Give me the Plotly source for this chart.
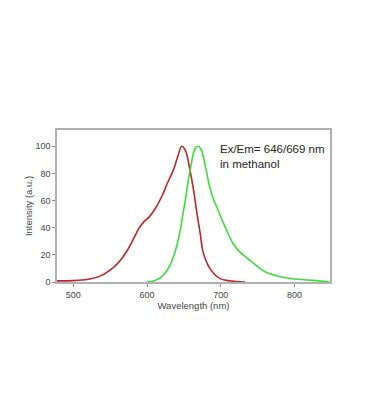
import plotly.graph_objects as go

ex_wl = [478, 500, 520, 537, 555, 564, 573, 581, 589, 596, 603, 611, 620, 627, 636, 642, 647, 652, 658, 663, 667, 672, 676, 683, 690, 699, 710, 720, 733]
ex_int = [0.8, 1.0, 2.0, 4.5, 11.0, 16.0, 23.0, 31.0, 39.5, 44.5, 48.0, 54.0, 63.0, 72.0, 83.0, 93.0, 100.0, 97.0, 83.0, 68.0, 53.0, 36.0, 22.0, 12.0, 6.5, 2.5, 1.0, 0.4, 0.0]

em_wl = [600, 610, 618, 625, 631, 636, 640, 645, 649, 653, 656, 660, 663, 666, 669, 673, 676, 680, 685, 690, 694, 700, 708, 717, 726, 735, 744, 753, 762, 773, 784, 795, 806, 818, 829, 840, 847]
em_int = [0.0, 1.0, 3.0, 7.0, 12.0, 19.0, 26.0, 38.0, 51.0, 64.0, 75.0, 87.0, 95.0, 99.0, 100.0, 98.0, 93.0, 83.0, 70.0, 61.0, 56.0, 48.0, 38.0, 28.0, 22.0, 18.0, 14.0, 10.0, 7.0, 5.0, 3.5, 2.6, 2.0, 1.5, 1.0, 0.5, 0.2]

x_ticks = [500, 600, 700, 800]
y_ticks = [0, 20, 40, 60, 80, 100]

fig = go.Figure()
fig.add_trace(go.Scatter(x=ex_wl, y=ex_int, mode="lines", line=dict(color="#b5282a", width=1.6, shape="spline", smoothing=1.0), showlegend=False))
fig.add_trace(go.Scatter(x=em_wl, y=em_int, mode="lines", line=dict(color="#3ddc3d", width=1.6, shape="spline", smoothing=1.0), showlegend=False))

fig.add_annotation(x=0.59, y=0.93, xref="paper", yref="paper", xanchor="left", yanchor="top",
                   text="Ex/Em= 646/669 nm<br>in methanol", showarrow=False, align="left",
                   font=dict(family="Liberation Sans, Arial", size=11.5, color="#222222"))

axis_common = dict(showgrid=False, zeroline=False, showline=True, linecolor="#b0b0b0", linewidth=1.5, mirror=True,
                   ticks="outside", ticklen=3, tickcolor="#888888", tickfont=dict(family="Liberation Sans, Arial", size=9, color="#444444"))
fig.update_xaxes(range=[478, 848], tickvals=x_ticks, title=dict(text="Wavelength (nm)", font=dict(family="Liberation Sans, Arial", size=9.5, color="#444444"), standoff=1), **axis_common)
fig.update_yaxes(range=[0, 112], tickvals=y_ticks, title=dict(text="Intensity (a.u.)", font=dict(family="Liberation Sans, Arial", size=9.5, color="#444444"), standoff=1), **axis_common)

fig.update_layout(width=350, height=400, margin=dict(l=49, r=28, t=122, b=126),
                  paper_bgcolor="white", plot_bgcolor="white")
fig.write_html("out.html")
